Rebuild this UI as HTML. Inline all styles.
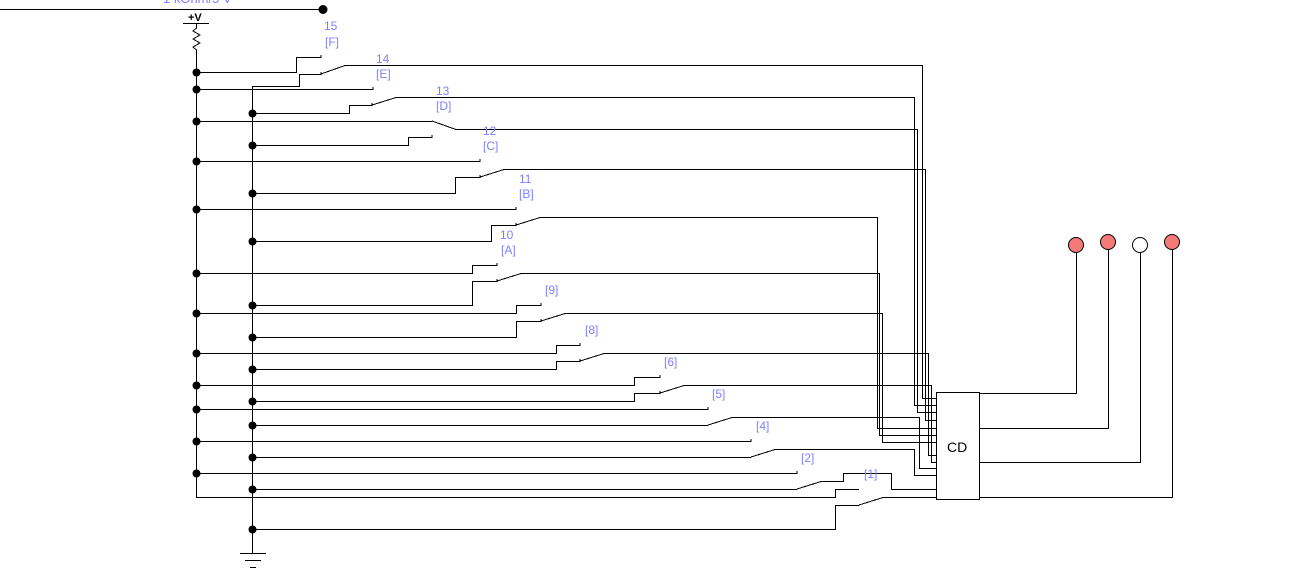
<!DOCTYPE html>
<html><head><meta charset="utf-8"><style>
html,body{margin:0;padding:0;background:#fff;width:1290px;height:574px;overflow:hidden}
svg{display:block}
text{font-family:"Liberation Sans",sans-serif;font-size:12px;fill:#7f7fff}
</style></head><body>
<svg width="1290" height="574" viewBox="0 0 1290 574" xmlns="http://www.w3.org/2000/svg">
<g stroke="#000" stroke-width="1" fill="none" shape-rendering="crispEdges">
<path d="M0 9.5H323"/>
<path d="M183 23.5H209"/>
<path d="M196.5 24V28L193 31L200 35L193 39L200 43L193 47L196.5 50V497.5H835.5V489.5H859"/>
<path d="M252.5 86V553"/>
<path d="M240 553.5H266M245 560.5H261M250 567.5H256"/>
<path d="M196 72.5H296.5V57.5H321V55"/>
<path d="M252 86.5H299.5V74.5H321V72"/>
<path d="M321 74L345 65.5H922.5V398.5H936"/>
<path d="M196 89.5H373V87"/>
<path d="M252 113.5H349.5V105.5H372V103"/>
<path d="M372 105L396 97.5H914.5V405.5H936"/>
<path d="M196 121.5H432"/>
<path d="M252 145.5H408.5V137.5H432V135"/>
<path d="M432 121L456 129.5H917.5V412.5H936"/>
<path d="M196 161.5H480V159"/>
<path d="M252 193.5H455.5V177.5H480V175"/>
<path d="M480 177L504 169.5H925.5V420.5H936"/>
<path d="M196 209.5H516V207"/>
<path d="M252 241.5H491.5V225.5H516V223"/>
<path d="M516 225L540 217.5H877.5V428.5H936"/>
<path d="M196 273.5H472.5V265.5H497V263"/>
<path d="M252 305.5H472.5V281.5H497V279"/>
<path d="M497 281L521 273.5H879.5V435.5H936"/>
<path d="M196 313.5H516.5V305.5H541V303"/>
<path d="M252 337.5H516.5V321.5H541V319"/>
<path d="M541 321L565 313.5H882.5V442.5H936"/>
<path d="M196 353.5H556.5V345.5H580V343"/>
<path d="M252 369.5H556.5V361.5H580V359"/>
<path d="M580 361L604 353.5H928.5V455.5H936"/>
<path d="M196 385.5H634.5V377.5H660V375"/>
<path d="M252 401.5H634.5V393.5H660V391"/>
<path d="M660 393L684 385.5H931.5V462.5H936"/>
<path d="M196 409.5H708V407"/>
<path d="M252 425.5H708"/>
<path d="M708 425L732 417.5H919.5V468.5H936"/>
<path d="M196 441.5H751V439"/>
<path d="M252 457.5H751"/>
<path d="M751 457L775 449.5H914.5V475.5H936"/>
<path d="M196 473.5H797V471"/>
<path d="M252 489.5H797"/>
<path d="M797 489L821 481.5H843.5V473.5H891.5V489.5H936"/>
<path d="M252 529.5H835.5V505.5H859"/>
<path d="M859 505L883 497.5H936"/>
<rect x="936.5" y="392.5" width="43" height="107"/>
<path d="M979 393.5H1076.5V246"/>
<path d="M979 428.5H1108.5V243"/>
<path d="M979 462.5H1140.5V245"/>
<path d="M979 497.5H1172.5V243"/>
</g>
<g fill="#000">
<circle cx="323" cy="9.5" r="4.5"/>
<circle cx="196.5" cy="72.5" r="4"/><circle cx="196.5" cy="89.5" r="4"/><circle cx="196.5" cy="121.5" r="4"/><circle cx="196.5" cy="161.5" r="4"/><circle cx="196.5" cy="209.5" r="4"/><circle cx="196.5" cy="273.5" r="4"/><circle cx="196.5" cy="313.5" r="4"/><circle cx="196.5" cy="353.5" r="4"/><circle cx="196.5" cy="385.5" r="4"/><circle cx="196.5" cy="409.5" r="4"/><circle cx="196.5" cy="441.5" r="4"/><circle cx="196.5" cy="473.5" r="4"/>
<circle cx="252.5" cy="113.5" r="4"/><circle cx="252.5" cy="145.5" r="4"/><circle cx="252.5" cy="193.5" r="4"/><circle cx="252.5" cy="241.5" r="4"/><circle cx="252.5" cy="305.5" r="4"/><circle cx="252.5" cy="337.5" r="4"/><circle cx="252.5" cy="369.5" r="4"/><circle cx="252.5" cy="401.5" r="4"/><circle cx="252.5" cy="425.5" r="4"/><circle cx="252.5" cy="457.5" r="4"/><circle cx="252.5" cy="489.5" r="4"/><circle cx="252.5" cy="529.5" r="4"/>
</g>
<g stroke="#000" stroke-width="1">
<circle cx="1076" cy="245" r="7.5" fill="#f47a7a"/>
<circle cx="1108" cy="242" r="7.5" fill="#f47a7a"/>
<circle cx="1140" cy="245" r="7.5" fill="#fff"/>
<circle cx="1172" cy="242" r="7.5" fill="#f47a7a"/>
</g>
<text x="163" y="3" style="font-size:13px">1 kOhm/5 V</text>
<text x="188" y="21" style="fill:#000;font-size:11px;font-weight:bold">+V</text>
<text x="324" y="30">15</text><text x="325" y="46">[F]</text>
<text x="376" y="63">14</text><text x="376" y="78">[E]</text>
<text x="436" y="95">13</text><text x="436" y="110">[D]</text>
<text x="483" y="135">12</text><text x="483" y="150">[C]</text>
<text x="519" y="183">11</text><text x="519" y="198">[B]</text>
<text x="500" y="239">10</text><text x="501" y="254">[A]</text>
<text x="545" y="294">[9]</text>
<text x="585" y="334">[8]</text>
<text x="664" y="366">[6]</text>
<text x="712" y="398">[5]</text>
<text x="756" y="430">[4]</text>
<text x="801" y="462">[2]</text>
<text x="864" y="478">[1]</text>
<text x="947" y="452" style="fill:#000;font-size:14px">CD</text>
</svg>
</body></html>
